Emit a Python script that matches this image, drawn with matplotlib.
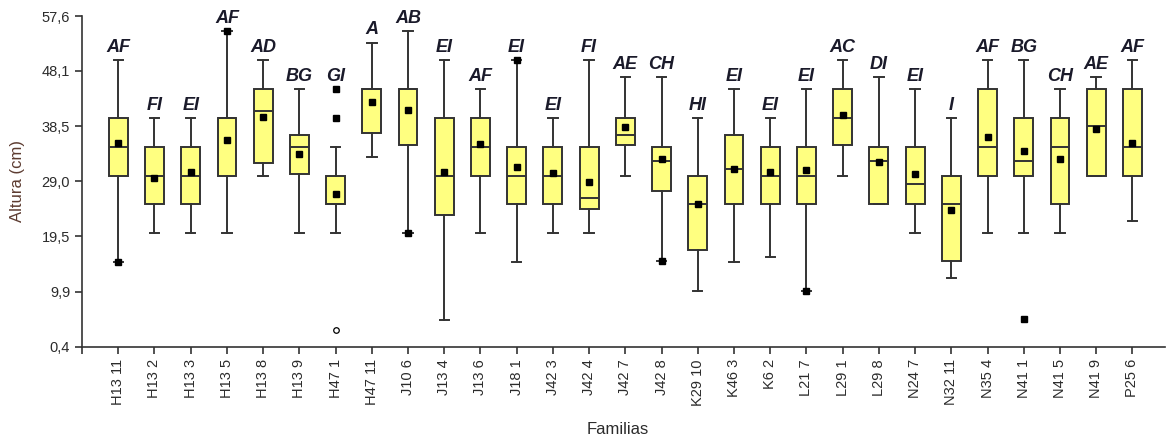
import numpy as np
import matplotlib
matplotlib.use("Agg")
import matplotlib.pyplot as plt

plt.rcParams['font.family'] = ['Liberation Sans', 'DejaVu Sans']

# Familias y letras de comparacion de medias
familias = ["H13 11", "H13 2", "H13 3", "H13 5", "H13 8", "H13 9", "H47 1", "H47 11",
            "J10 6", "J13 4", "J13 6", "J18 1", "J42 3", "J42 4", "J42 7", "J42 8",
            "K29 10", "K46 3", "K6 2", "L21 7", "L29 1", "L29 8", "N24 7", "N32 11",
            "N35 4", "N41 1", "N41 5", "N41 9", "P25 6"]
letras = ["AF", "FI", "EI", "AF", "AD", "BG", "GI", "A", "AB", "EI", "AF", "EI", "EI",
          "FI", "AE", "CH", "HI", "EI", "EI", "EI", "AC", "DI", "EI", "I", "AF", "BG",
          "CH", "AE", "AF"]

# Altura (cm): bigotes, cuartiles, mediana y media
bigote_inf = [15, 20, 20, 20, 30, 20, 20, 33.2, 20, 5, 20, 15, 20, 20, 30, 15.2, 10,
              15, 16, 10, 30, 25, 20, 12.2, 20, 20, 20, 30, 22.1]
q1 = [30, 25, 25, 30, 32.2, 30.3, 25, 37.3, 35.3, 23.2, 30, 25, 25, 24.2, 35.3, 27.3,
      17.2, 25, 25, 25, 35.3, 25, 25, 15.3, 30, 30, 25, 30, 30]
mediana = [35, 30, 30, 40, 41.2, 35, 25, 45, 45, 30, 35, 30, 30, 26.1, 37.1, 32.5, 25,
           31.1, 30, 30, 40, 32.5, 28.6, 25, 35, 32.5, 35, 38.5, 35]
q3 = [40, 35, 35, 40, 45, 37.1, 30, 45, 45, 40, 40, 35, 35, 35, 40, 35, 30, 37.1, 35,
      35, 45, 35, 35, 30, 45, 40, 40, 45, 45]
bigote_sup = [50, 40, 40, 55, 50, 45, 35, 53, 55, 50, 45, 50, 40, 50, 47, 47, 40, 45,
              40, 45, 50, 47, 45, 40, 50, 50, 45, 47, 50]
medias = [35.7, 29.5, 30.6, 36.2, 40.1, 33.8, 26.8, 42.7, 41.3, 30.6, 35.5, 31.4, 30.4,
          28.9, 38.4, 32.9, 25.1, 31.1, 30.6, 30.9, 40.5, 32.3, 30.2, 24.1, 36.7, 34.2,
          32.8, 38.1, 35.7]

# Valores atipicos (indice de familia, altura)
atip_idx = [0, 3, 6, 6, 8, 11, 15, 19, 25]
atip_val = [15, 55, 45, 40, 20, 50, 15.2, 10, 5.2]
extremo_idx = [6]
extremo_val = [3.3]

yticks = [0.4, 9.9, 19.5, 29.0, 38.5, 48.1, 57.6]

fig = plt.figure(figsize=(11.67, 4.42), dpi=100)
ax = fig.add_axes([0.0703, 0.2156, 0.928, 0.7482])

stats = []
for i in range(len(familias)):
    stats.append(dict(whislo=bigote_inf[i], q1=q1[i], med=mediana[i], q3=q3[i],
                      whishi=bigote_sup[i], mean=medias[i], fliers=[]))

pos = np.arange(len(familias))
edge = '#333333'
ax.bxp(stats, positions=pos, widths=0.52, patch_artist=True, showmeans=True,
       showfliers=False,
       boxprops=dict(facecolor='#ffff80', edgecolor=edge, linewidth=1.4),
       medianprops=dict(color=edge, linewidth=1.4),
       whiskerprops=dict(color=edge, linewidth=1.4),
       capprops=dict(color=edge, linewidth=1.4),
       meanprops=dict(marker='s', markerfacecolor='black', markeredgecolor='black',
                      markersize=5))

ax.plot(atip_idx, atip_val, 's', color='black', markersize=5, zorder=4)
ax.plot(extremo_idx, extremo_val, 'o', markerfacecolor='white', markeredgecolor='black',
        markersize=4, markeredgewidth=0.9, zorder=4)

# Letras sobre cada caja
for i, txt in enumerate(letras):
    tope = bigote_sup[i]
    for j, v in zip(atip_idx, atip_val):
        if j == i:
            tope = max(tope, v)
    ax.annotate(txt, (i, tope), xytext=(0, 3), textcoords='offset points',
                ha='center', va='bottom', fontsize=13, fontweight='bold',
                fontstyle='italic', color='#1a1a2a')

ax.set_xlim(-1, len(familias) - 0.1)
ax.set_ylim(0.4, 57.6)
ax.set_yticks(yticks)
ax.set_yticklabels([f"{v:.1f}".replace('.', ',') for v in yticks])
ax.set_xticks(pos)
ax.set_xticklabels(familias, rotation=90)
ax.set_xticks([-1], minor=True)

ax.tick_params(axis='both', direction='out', length=5, width=1.2, color=edge,
               labelsize=10.5, labelcolor='#2b2b2b')
ax.tick_params(axis='x', which='minor', length=5, width=1.2, color=edge)
ax.tick_params(axis='x', pad=4)

for s in ['top', 'right']:
    ax.spines[s].set_visible(False)
for s in ['left', 'bottom']:
    ax.spines[s].set_color(edge)
    ax.spines[s].set_linewidth(1.2)

fig.text(18 / 1167, 1 - 181 / 442, 'Altura (cm)', rotation=90, ha='center',
         va='center', fontsize=12, color='#5c3b30')
fig.text(618 / 1167, 1 - 430 / 442, 'Familias', ha='center', va='center',
         fontsize=12, color='#2b2b2b')

fig.savefig('out.png', dpi=100)
